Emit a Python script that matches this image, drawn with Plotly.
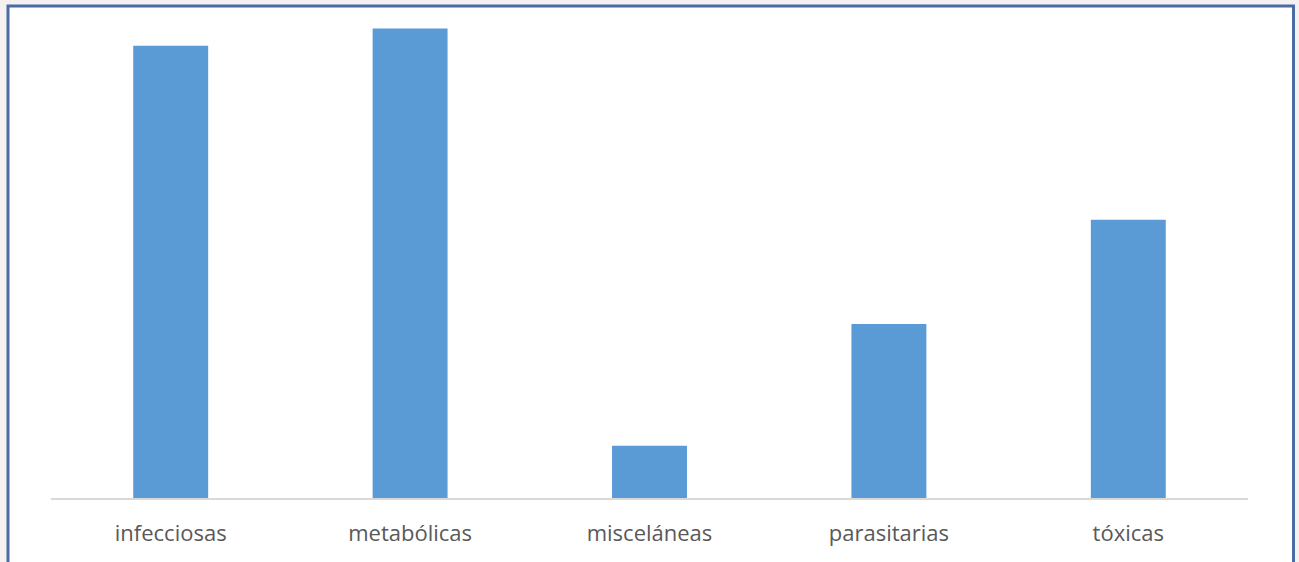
import plotly.graph_objects as go

categories = ["infecciosas", "metabólicas", "misceláneas", "parasitarias", "tóxicas"]
values = [26, 27, 3, 10, 16]

BAR_COLOR = "#5b9bd5"
FRAME_COLOR = "#4a6ca6"

# plot area in pixels (page is 1299 x 562)
W, H = 1299, 562
L, R, T, B = 51, 51, 11, 64
pw, ph = W - L - R, H - T - B


def px_x(x):
    return (x - L) / pw


def px_y(y):
    return (H - B - y) / ph


fig = go.Figure(
    go.Bar(
        x=categories,
        y=values,
        marker=dict(color=BAR_COLOR, line=dict(width=0)),
        hoverinfo="x+y",
    )
)

fig.update_layout(
    width=W,
    height=H,
    margin=dict(l=L, r=R, t=T, b=B, pad=0),
    paper_bgcolor="#f5f1f1",
    plot_bgcolor="white",
    bargap=0.687,
    showlegend=False,
    font=dict(family="Open Sans, Liberation Sans, sans-serif", color="#595959"),
    shapes=[
        dict(
            type="rect",
            xref="paper",
            yref="paper",
            x0=px_x(8),
            x1=px_x(1293.5),
            y0=px_y(575),
            y1=px_y(6),
            line=dict(color=FRAME_COLOR, width=3),
            fillcolor="white",
            layer="below",
        )
    ],
)

fig.update_xaxes(
    showline=True,
    linecolor="#d9d9d9",
    linewidth=1.5,
    showgrid=False,
    ticks="outside",
    ticklen=15,
    tickcolor="rgba(0,0,0,0)",
    tickfont=dict(size=22, color="#595959"),
    fixedrange=True,
)
fig.update_yaxes(
    range=[0, 28],
    visible=False,
    showgrid=False,
    zeroline=False,
    fixedrange=True,
)

fig.write_html("out.html")
